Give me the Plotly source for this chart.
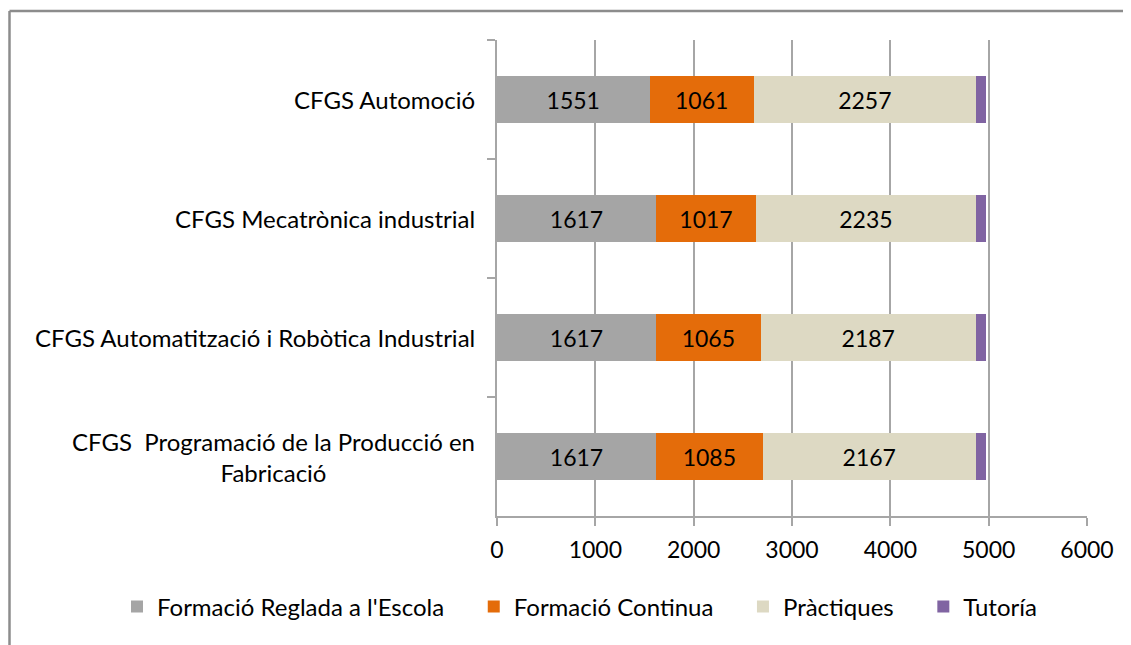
import plotly.graph_objects as go

categories = [
    "CFGS Automoció",
    "CFGS Mecatrònica industrial",
    "CFGS Automatització i Robòtica Industrial",
    "CFGS\u00a0\u00a0Programació de la Producció en<br>Fabricació",
]
series_names = ["Formació Reglada a l'Escola", "Formació Continua", "Pràctiques", "Tutoría"]
reglada = [1551, 1617, 1617, 1617]
continua = [1061, 1017, 1065, 1085]
practiques = [2257, 2235, 2187, 2167]
tutoria = [100, 100, 100, 100]
x_ticks = [0, 1000, 2000, 3000, 4000, 5000, 6000]

colors = ["#A5A5A5", "#E46C0A", "#DDD9C3", "#8064A2"]
values = [reglada, continua, practiques, tutoria]
FONT = "Lato, 'Open Sans', sans-serif"
NUM = 23
TXT = 24
PAD = "\u00a0" * 4  # extra spacing between legend entries

fig = go.Figure()
for i, (name, vals, col) in enumerate(zip(series_names, values, colors)):
    show_text = name != "Tutoría"
    legend_name = name + (PAD if i < len(series_names) - 1 else "")
    fig.add_trace(go.Bar(
        y=categories, x=vals, name=legend_name, orientation="h",
        marker=dict(color=col, line=dict(width=0)),
        text=[str(v) for v in vals] if show_text else None,
        textposition="inside" if show_text else "none",
        insidetextanchor="middle",
        textfont=dict(size=NUM, color="black", family=FONT),
        hovertemplate=name + ": %{x}<extra></extra>",
    ))

# page offset: the html body has an 8px margin
OFF = 8
OFFX = 7
W, H = 1131, 645
L = 496 - OFFX
T = 40 - OFF
R = W - (1086 - OFFX)
B = H - (516 - OFF)
pw, ph = W - L - R, H - T - B

fig.update_layout(
    width=W, height=H,
    barmode="stack", bargap=0.6,
    margin=dict(l=L, r=R, t=T, b=B, pad=0, autoexpand=False),
    paper_bgcolor="white", plot_bgcolor="white",
    font=dict(family=FONT, size=TXT, color="black"),
    xaxis=dict(
        range=[0, 6000], tickvals=x_ticks, ticktext=[str(v) for v in x_ticks],
        showgrid=True, gridcolor="#A6A6A6", gridwidth=1.5,
        showline=True, linecolor="#A6A6A6", linewidth=1.5,
        ticks="outside", ticklen=8, tickcolor="#A6A6A6", tickwidth=1.5,
        zeroline=False, tickfont=dict(size=NUM), ticklabelstandoff=5,
    ),
    yaxis=dict(
        autorange="reversed", showgrid=False,
        showline=True, linecolor="#A6A6A6", linewidth=1.5,
        ticks="outside", tickson="boundaries", ticklen=8, tickcolor="#A6A6A6", tickwidth=1.5,
        showticklabels=False,
    ),
    legend=dict(
        orientation="h", x=(116 - OFFX - L) / pw, xanchor="left",
        y=((516 - OFF) - (607 - OFF)) / ph, yanchor="middle",
        font=dict(size=TXT), itemwidth=30, traceorder="normal",
        bgcolor="rgba(0,0,0,0)",
    ),
    showlegend=True,
)

# category labels (multi-line centred like the reference)
for c in categories:
    fig.add_annotation(
        x=0, xref="paper", y=c, yref="y", xanchor="right", yanchor="middle",
        xshift=-20, text=c, showarrow=False, align="center",
        font=dict(size=TXT, color="black", family=FONT),
    )

# outer frame (top and left edges visible)
fx = (1.5 - L) / pw
fy = ((516 - OFF) - 3) / ph
fig.add_shape(type="line", xref="paper", yref="paper", x0=fx, x1=(W + 20 - L) / pw, y0=fy, y1=fy,
              line=dict(color="#8C8C8C", width=2.5))
fig.add_shape(type="line", xref="paper", yref="paper", x0=fx, x1=fx, y0=fy, y1=-(B + 20) / ph,
              line=dict(color="#8C8C8C", width=2.5))

fig.write_html("out.html")
